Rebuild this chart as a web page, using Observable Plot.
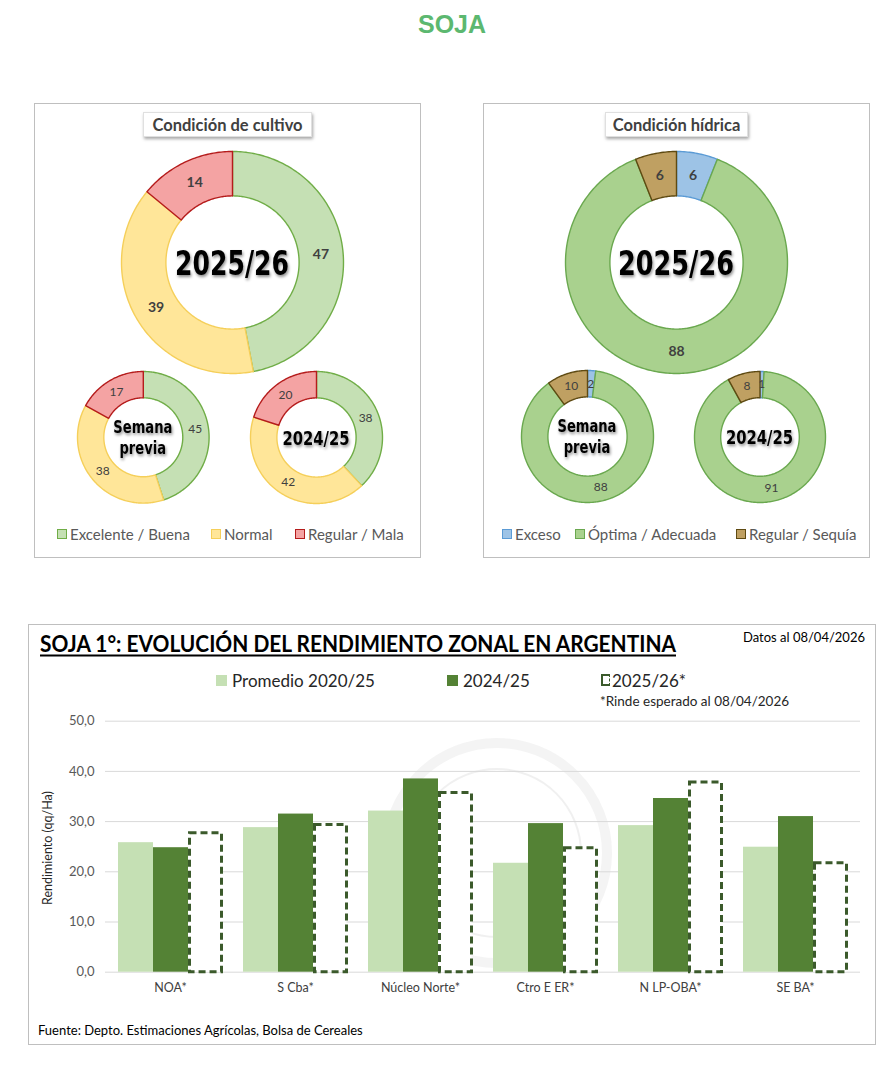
<!DOCTYPE html>
<html>
<head>
<meta charset="utf-8">
<script src="https://cdn.jsdelivr.net/npm/d3@7"></script>
<script src="https://cdn.jsdelivr.net/npm/@observablehq/plot@0.6"></script>
<style>
  body { margin: 0; background: #fff; }
  #page { position: relative; width: 893px; height: 1066px; font-family: Lato, "Open Sans", sans-serif; overflow: hidden; }
  #page svg { position: absolute; }
</style>
</head>
<body>
<div id="page"></div>
<script>
// ---------- DATA ----------
const cultivoCats = ["Excelente / Buena", "Normal", "Regular / Mala"];
const cultivo2526 = [47, 39, 14];
const cultivoPrev = [45, 38, 17];
const cultivo2425 = [38, 42, 20];

const hidricaCats = ["Exceso", "Óptima / Adecuada", "Regular / Sequía"];
const hidrica2526 = [6, 88, 6];
const hidricaPrev = [2, 88, 10];
const hidrica2425 = [1, 91, 8];

const zonas = ["NOA*", "S Cba*", "Núcleo Norte*", "Ctro E ER*", "N LP-OBA*", "SE BA*"];
const serieNames = ["Promedio 2020/25", "2024/25", "2025/26*"];
const promedio = [25.8, 28.8, 32.1, 21.7, 29.2, 24.9];
const camp2425 = [24.8, 31.5, 38.5, 29.6, 34.6, 31.0];
const camp2526 = [28.0, 29.6, 36.0, 25.0, 38.1, 22.0];
const yTicks = [0, 10, 20, 30, 40, 50];

// ---------- STYLE ----------
const cultivoFill = ["#c5e0b4", "#ffe699", "#f4a3a3"];
const cultivoStroke = ["#70ad47", "#f5cf5a", "#b51c1c"];
const hidricaFill = ["#9dc3e6", "#a9d18e", "#bfa062"];
const hidricaStroke = ["#5b9bd5", "#6aa84f", "#5e4a12"];
const barFill = ["#c5e0b4", "#548235"];
const dashStroke = "#3b5a2b";

const page = document.getElementById("page");

function label(txt, x, cy, css, align = "left") {
  const d = document.createElement("div");
  d.textContent = txt;
  const tx = align === "center" ? "-50%" : align === "right" ? "-100%" : "0";
  d.style.cssText = `position:absolute;white-space:nowrap;line-height:1;top:${cy}px;left:${x}px;transform-origin:${align === "center" ? "center" : "left"} center;transform:translate(${tx},-50%);` + css;
  page.appendChild(d);
  return d;
}
function box(x, y, w, h, css) {
  const d = document.createElement("div");
  d.style.cssText = `position:absolute;left:${x}px;top:${y}px;width:${w}px;height:${h}px;box-sizing:border-box;` + css;
  page.appendChild(d);
  return d;
}
function fit(el, target) {
  const w = el.getBoundingClientRect().width;
  el.style.transform += ` scaleX(${target / w})`;
}

// ---------- PAGE TITLE ----------
label("SOJA", 452, 24, "font-family:'Liberation Sans',Arial,sans-serif;font-weight:bold;font-size:25px;color:#5cb870;", "center");

// ---------- PANELS ----------
box(34, 103, 387, 455, "border:1px solid #bfbfbf;background:#fff;");
box(483, 103, 387, 455, "border:1px solid #bfbfbf;background:#fff;");

function panelTitle(txt, x, w) {
  box(x, 112, w, 25, "background:#fff;border:1px solid #e0e0e0;box-shadow:1px 2px 3px rgba(0,0,0,0.35);");
  label(txt, x + w / 2, 125, "font-weight:bold;font-size:16.5px;color:#404040;", "center");
}
panelTitle("Condición de cultivo", 143, 169);
panelTitle("Condición hídrica", 605, 143);

// ---------- DONUTS ----------
function donut(values, fills, strokes, o) {
  const inner = 0.6, pad = 3, half = o.r + pad, ext = half / o.r;
  const total = d3.sum(values);
  const slices = [], labels = [];
  let acc = 0;
  values.forEach((v, i) => {
    const a0 = acc / total * 2 * Math.PI; acc += v; const a1 = acc / total * 2 * Math.PI;
    const n = Math.max(3, Math.ceil((a1 - a0) * 180 / Math.PI));
    const outer = d3.range(n + 1).map(k => a0 + (a1 - a0) * k / n).map(a => ({x: Math.sin(a), y: Math.cos(a)}));
    const inn = outer.map(p => ({x: p.x * inner, y: p.y * inner})).reverse();
    slices.push([...outer, ...inn, outer[0]]);
    const am = (a0 + a1) / 2, rm = (1 + inner) / 2;
    labels.push({x: Math.sin(am) * rm, y: Math.cos(am) * rm, text: String(v)});
  });
  const svg = Plot.plot({
    width: 2 * half, height: 2 * half, margin: 0,
    x: {domain: [-ext, ext], axis: null},
    y: {domain: [-ext, ext], axis: null},
    style: {background: "transparent", overflow: "visible"},
    marks: [
      ...slices.map((s, i) => Plot.line(s, {x: "x", y: "y", fill: fills[i], stroke: strokes[i], strokeWidth: 1.4, curve: "linear"})),
      Plot.text(labels, {x: "x", y: "y", text: "text", fill: "#404040", fontSize: o.labelSize, fontWeight: o.labelWeight, fontFamily: "Lato"}),
      Plot.text([o.center], {frameAnchor: "middle", text: d => d, fontSize: o.centerSize, fontWeight: "bold", fontFamily: "DejaVu Sans", fill: "#000", lineHeight: 1.2})
    ]
  });
  svg.style.left = (o.cx - half) + "px";
  svg.style.top = (o.cy - half) + "px";
  page.appendChild(svg);
  const groups = svg.querySelectorAll('g[aria-label="text"]');
  const g = groups[groups.length - 1];
  const bb = g.getBBox();
  const inner2 = document.createElementNS("http://www.w3.org/2000/svg", "g");
  g.parentNode.insertBefore(inner2, g);
  inner2.appendChild(g);
  inner2.style.filter = "drop-shadow(1px 2px 1.5px rgba(0,0,0,0.45))";
  g.style.transformBox = "fill-box";
  g.style.transformOrigin = "center";
  g.style.transform = `scaleX(${o.centerW / bb.width})`;
}

donut(cultivo2526, cultivoFill, cultivoStroke, {cx: 231.5, cy: 262, r: 111, center: "2025/26", centerSize: 34, centerW: 114, labelSize: 14, labelWeight: "bold"});
donut(cultivoPrev, cultivoFill, cultivoStroke, {cx: 142.5, cy: 436.5, r: 65.8, center: "Semana\nprevia", centerSize: 17.5, centerW: 59, labelSize: 12, labelWeight: "normal"});
donut(cultivo2425, cultivoFill, cultivoStroke, {cx: 316, cy: 437, r: 66, center: "2024/25", centerSize: 20, centerW: 67, labelSize: 12, labelWeight: "normal"});
donut(hidrica2526, hidricaFill, hidricaStroke, {cx: 676, cy: 262, r: 111, center: "2025/26", centerSize: 34, centerW: 116, labelSize: 14, labelWeight: "bold"});
donut(hidricaPrev, hidricaFill, hidricaStroke, {cx: 587, cy: 436, r: 66, center: "Semana\nprevia", centerSize: 17.5, centerW: 59, labelSize: 12, labelWeight: "normal"});
donut(hidrica2425, hidricaFill, hidricaStroke, {cx: 759.7, cy: 436.5, r: 65.5, center: "2024/25", centerSize: 20, centerW: 67, labelSize: 12, labelWeight: "normal"});

// ---------- PANEL LEGENDS ----------
function legendItem(x, cy, fill, stroke, txt, textX) {
  box(x, cy - 5, 10, 10, `background:${fill};border:1.3px solid ${stroke};`);
  label(txt, textX, cy, "font-size:15px;color:#595959;");
}
const cultLegX = [57, 211, 295], cultTextX = [70, 224, 308];
cultivoCats.forEach((c, i) => legendItem(cultLegX[i], 534, cultivoFill[i], cultivoStroke[i], c, cultTextX[i]));
const hidLegX = [502, 575, 736], hidTextX = [515, 588, 749];
hidricaCats.forEach((c, i) => legendItem(hidLegX[i], 534, hidricaFill[i], hidricaStroke[i], c, hidTextX[i]));

// ---------- BAR CHART ----------
box(28, 624, 848, 421, "border:1px solid #bfbfbf;background:#fff;");
// faint watermark seal
box(382, 738, 230, 230, "border-radius:50%;border:10px solid rgba(235,235,235,0.55);");
box(412, 768, 170, 170, "border-radius:50%;border:2px solid rgba(225,225,225,0.5);");

const t = label("SOJA 1°: EVOLUCIÓN DEL RENDIMIENTO ZONAL EN ARGENTINA", 40, 643, "font-weight:bold;font-size:23px;color:#000;text-decoration:underline;text-decoration-thickness:1.5px;text-underline-offset:3px;");
fit(t, 636);
label("Datos al 08/04/2026", 743, 637, "font-size:13px;color:#000;");

// legend
box(216, 675, 11, 11, `background:${barFill[0]};`);
label(serieNames[0], 232, 680, "font-size:17px;color:#262626;");
box(447, 675, 11, 11, `background:${barFill[1]};`);
label(serieNames[1], 463, 680, "font-size:17px;color:#262626;");
box(601, 674, 9, 12, `border:2.5px dashed ${dashStroke};border-right-width:1.5px;`);
label(serieNames[2], 612, 680, "font-size:17px;color:#262626;");
label("*Rinde esperado al 08/04/2026", 600, 702, "font-size:13.5px;color:#262626;");

const solid = zonas.flatMap((z, i) => [
  {zona: z, serie: serieNames[0], value: promedio[i]},
  {zona: z, serie: serieNames[1], value: camp2425[i]}
]);
const dashed = zonas.map((z, i) => ({zona: z, serie: serieNames[2], value: camp2526[i]}));

const dims = {width: 893, height: 310, marginLeft: 105, marginRight: 33, marginTop: 20.7, marginBottom: 38.3};

const bg = Plot.plot({
  ...dims,
  style: {background: "transparent", fontFamily: "Lato"},
  y: {domain: [0, 50]},
  marks: [
    Plot.ruleY(yTicks, {stroke: "#d9d9d9", strokeWidth: 1}),
    Plot.axisY(yTicks, {tickSize: 0, tickPadding: 11, tickFormat: d => d.toFixed(1).replace(".", ","), label: null, color: "#595959", fontSize: 13})
  ]
});
bg.style.left = "0px"; bg.style.top = "700px";
page.appendChild(bg);

const bars = Plot.plot({
  ...dims,
  style: {background: "transparent", fontFamily: "Lato"},
  fx: {domain: zonas, paddingInner: 0.15, paddingOuter: 0.075, label: null},
  x: {domain: serieNames, padding: 0, axis: null},
  y: {domain: [0, 50], axis: null},
  color: {domain: serieNames.slice(0, 2), range: barFill},
  marks: [
    Plot.barY(solid, {fx: "zona", x: "serie", y: "value", fill: "serie"}),
    Plot.barY(dashed, {fx: "zona", x: "serie", y: "value", fill: "white", stroke: dashStroke, strokeWidth: 3, strokeDasharray: "7,4", insetLeft: 1.5, insetRight: 1.5, insetTop: 1.5}),
    Plot.axisFx({anchor: "bottom", tickSize: 0, tickPadding: 11, label: null, color: "#404040", fontSize: 12.5})
  ]
});
bars.style.left = "0px"; bars.style.top = "700px";
page.appendChild(bars);

// y-axis title
label("Rendimiento (qq/Ha)", 47.5, 848, "font-size:12.5px;color:#262626;transform:translate(-50%,-50%) rotate(-90deg);", "center");

label("Fuente: Depto. Estimaciones Agrícolas, Bolsa de Cereales", 38, 1030, "font-size:13px;color:#000;");
</script>
</body>
</html>
